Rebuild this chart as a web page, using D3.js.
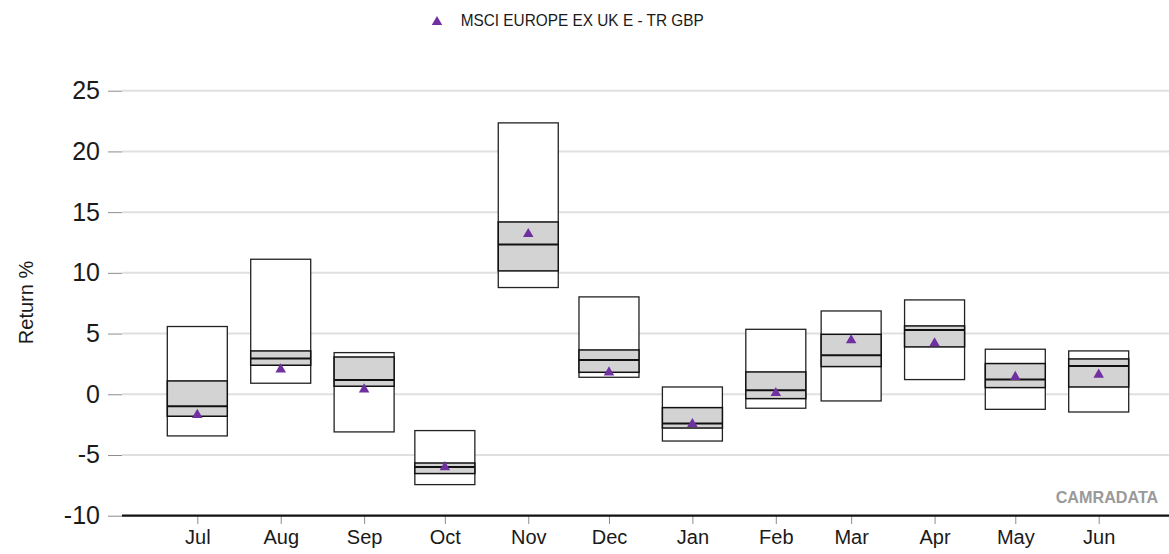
<!DOCTYPE html>
<html>
<head>
<meta charset="utf-8">
<script src="https://cdn.jsdelivr.net/npm/d3@7"></script>
<style>
  body { margin: 0; background: #fff; }
  svg { display: block; }
  text { font-family: "Liberation Sans", Arial, sans-serif; }
</style>
</head>
<body>
<svg id="chart" width="1169" height="554"></svg>
<script>
// Monthly return distributions (percent)
const months = ["Jul", "Aug", "Sep", "Oct", "Nov", "Dec", "Jan", "Feb", "Mar", "Apr", "May", "Jun"];
const monthDates = ["2022-07-01", "2022-08-01", "2022-09-01", "2022-10-01", "2022-11-01", "2022-12-01",
                    "2023-01-01", "2023-02-01", "2023-03-01", "2023-04-01", "2023-05-01", "2023-06-01"];
const upper  = [5.58, 11.12, 3.43, -2.99, 22.35, 8.02, 0.60, 5.35, 6.86, 7.77, 3.71, 3.57];
const q3     = [1.10, 3.57, 3.07, -5.66, 14.19, 3.65, -1.10, 1.84, 4.94, 5.63, 2.53, 2.91];
const median = [-0.99, 2.94, 1.18, -5.99, 12.33, 2.83, -2.41, 0.33, 3.21, 5.30, 1.21, 2.33];
const q1     = [-1.81, 2.39, 0.66, -6.53, 10.16, 1.81, -2.78, -0.36, 2.28, 3.90, 0.55, 0.60];
const lower  = [-3.43, 0.91, -3.10, -7.44, 8.79, 1.40, -3.85, -1.15, -0.55, 1.21, -1.24, -1.46];
const fund   = [-1.70, 2.05, 0.40, -6.00, 13.20, 1.80, -2.45, 0.10, 4.45, 4.20, 1.43, 1.62];
const yTicks = [-10, -5, 0, 5, 10, 15, 20, 25];
const seriesName = "MSCI EUROPE EX UK E - TR GBP";
const yTitle = "Return %";
const brand = "CAMRADATA";

const parse = d3.timeParse("%Y-%m-%d");
const dates = monthDates.map(parse);
const rows = months.map((m, i) => ({
  month: m, date: dates[i], upper: upper[i], q3: q3[i], median: median[i],
  q1: q1[i], lower: lower[i], fund: fund[i]
}));

const svg = d3.select("#chart");
const W = 1169;
const plotLeft = 122;
const boxW = 60;
const purple = "#7030a0";

const x = d3.scaleTime().domain([dates[0], dates[dates.length - 1]]).range([197.3, 1098.7]);
const y = d3.scaleLinear().domain([-10, 25]).range([515.7, 90.7]);

// Horizontal gridlines
svg.append("g").selectAll("line").data(yTicks.filter(t => t !== -10)).join("line")
  .attr("x1", plotLeft).attr("x2", W)
  .attr("y1", d => y(d)).attr("y2", d => y(d))
  .attr("stroke", "#e0e0e0").attr("stroke-width", 2);

// Y axis: short ticks and labels (plain hyphen for negatives)
const yAxis = svg.append("g").attr("transform", `translate(${plotLeft},0)`)
  .call(d3.axisLeft(y).tickValues(yTicks).tickSize(14).tickPadding(8).tickFormat(d => String(d)));
yAxis.select(".domain").remove();
yAxis.selectAll(".tick line").attr("stroke", "#8c8c8c").attr("stroke-width", 1);
yAxis.selectAll(".tick text").attr("font-size", 25).attr("fill", "#1a1a1a")
  .attr("font-family", "'Liberation Sans', Arial, sans-serif");

// Y title
svg.append("text")
  .attr("transform", `translate(33,302.5) rotate(-90)`)
  .attr("text-anchor", "middle")
  .attr("font-size", 20).attr("fill", "#1a1a1a")
  .text(yTitle);

// X axis: ticks and month labels
const xAxis = svg.append("g").attr("transform", "translate(0,516)")
  .call(d3.axisBottom(x).tickValues(dates).tickSize(8).tickPadding(6).tickFormat((d, i) => months[i]));
xAxis.select(".domain").remove();
xAxis.selectAll(".tick line").attr("stroke", "#8c8c8c").attr("stroke-width", 1);
xAxis.selectAll(".tick text").attr("font-size", 20).attr("fill", "#1a1a1a")
  .attr("font-family", "'Liberation Sans', Arial, sans-serif");

// Baseline at the bottom of the value range
svg.append("line")
  .attr("x1", plotLeft).attr("x2", W)
  .attr("y1", y(-10)).attr("y2", y(-10))
  .attr("stroke", "#111").attr("stroke-width", 2.2);

// Boxes: outer range, interquartile band and median
const boxes = svg.append("g").selectAll("g").data(rows).join("g");
boxes.append("rect")
  .attr("x", d => x(d.date) - boxW / 2).attr("width", boxW)
  .attr("y", d => y(d.upper)).attr("height", d => y(d.lower) - y(d.upper))
  .attr("fill", "#fff").attr("stroke", "#222").attr("stroke-width", 1.3);
boxes.append("rect")
  .attr("x", d => x(d.date) - boxW / 2).attr("width", boxW)
  .attr("y", d => y(d.q3)).attr("height", d => y(d.q1) - y(d.q3))
  .attr("fill", "#d3d3d3").attr("stroke", "#111").attr("stroke-width", 1.5);
boxes.append("line")
  .attr("x1", d => x(d.date) - boxW / 2).attr("x2", d => x(d.date) + boxW / 2)
  .attr("y1", d => y(d.median)).attr("y2", d => y(d.median))
  .attr("stroke", "#111").attr("stroke-width", 2);

// Index return markers
const tri = d3.symbol(d3.symbolTriangle, 48);
svg.append("g").selectAll("path").data(rows).join("path")
  .attr("d", tri)
  .attr("transform", d => `translate(${x(d.date)},${y(d.fund)})`)
  .attr("fill", purple);

// Legend
svg.append("path").attr("d", tri).attr("transform", "translate(437,22)").attr("fill", purple);
svg.append("text")
  .attr("x", 460.7).attr("y", 25.7)
  .attr("font-size", 17).attr("fill", "#1a1a1a")
  .attr("textLength", 243).attr("lengthAdjust", "spacingAndGlyphs")
  .text(seriesName);

// Brand mark
svg.append("text")
  .attr("x", 1055.7).attr("y", 502.7)
  .attr("font-size", 17).attr("font-weight", "bold").attr("fill", "#9a9a9a")
  .attr("textLength", 102.6).attr("lengthAdjust", "spacingAndGlyphs")
  .text(brand);
</script>
</body>
</html>
